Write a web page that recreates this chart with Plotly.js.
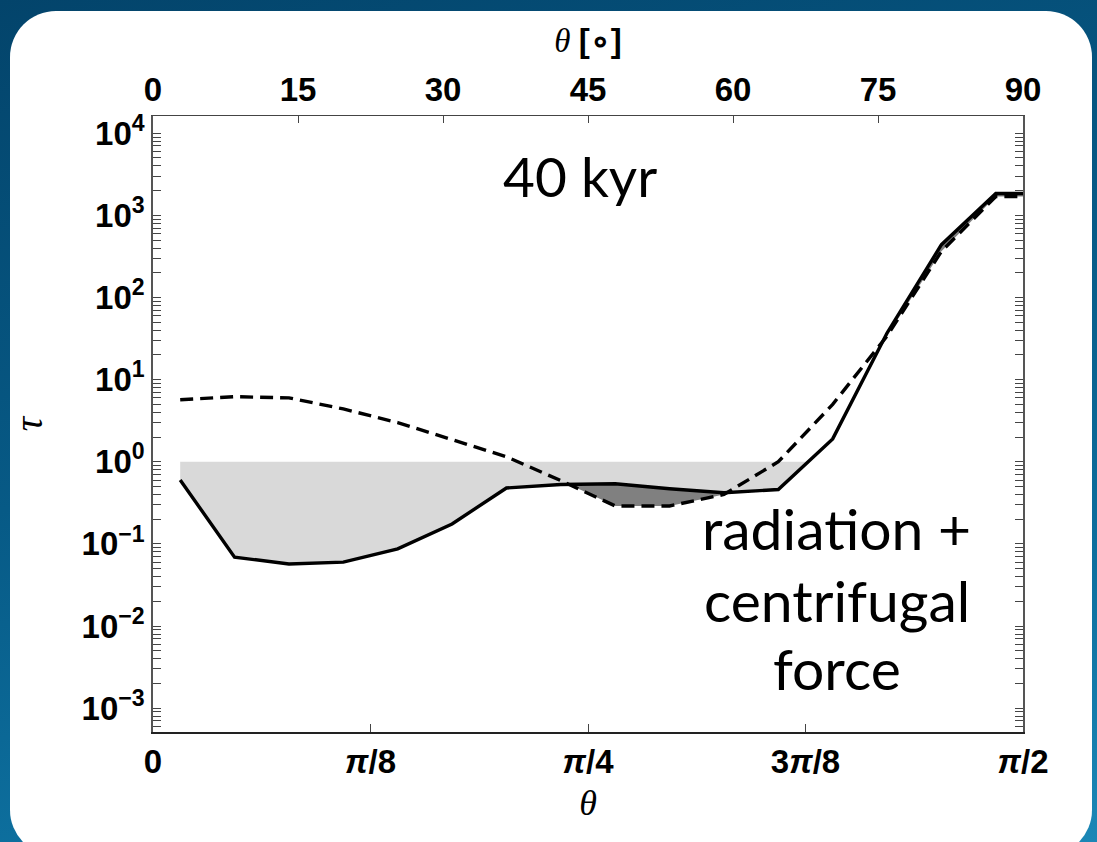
<!DOCTYPE html>
<html>
<head>
<meta charset="utf-8">
<script src="https://cdn.plot.ly/plotly-3.0.1.min.js"></script>
<style>
  html, body { margin: 0; padding: 0; width: 1097px; height: 842px; overflow: hidden; }
  body { background: linear-gradient(165deg, #03446b 0%, #075a86 45%, #0d6f9e 75%, #1b87b6 100%); position: relative; }
  #panel { position: absolute; left: 10px; top: 11px; width: 1082px; height: 845px; background: #ffffff; border-radius: 46px; }
  #chart { position: absolute; left: 0; top: 0; width: 1097px; height: 842px; }
</style>
</head>
<body>
<div id="panel"></div>
<div id="chart"></div>
<script>
// ---- data ----
const thetaDeg = [2.8125, 8.4375, 14.0625, 19.6875, 25.3125, 30.9375, 36.5625, 42.1875,
                  47.8125, 53.4375, 59.0625, 64.6875, 70.3125, 75.9375, 81.5625, 87.1875, 90];
const tauSolid = [0.60, 0.069, 0.057, 0.060, 0.087, 0.175, 0.48, 0.53,
                  0.54, 0.47, 0.42, 0.46, 1.9, 37, 440, 1850, 1850];
const tauDashed = [5.7, 6.2, 6.0, 4.4, 3.0, 1.85, 1.15, 0.59,
                   0.29, 0.29, 0.40, 1.0, 5.0, 34, 365, 1700, 1700];
const tauThreshold = 1;

const bottomTickVals = [0, 22.5, 45, 67.5, 90];
const bottomTickText = ['0', '<i>π</i>/8', '<i>π</i>/4', '3<i>π</i>/8', '<i>π</i>/2'];
const topTickVals = [0, 15, 30, 45, 60, 75, 90];
const topTickText = ['0', '15', '30', '45', '60', '75', '90'];
const yDecades = [-3, -2, -1, 0, 1, 2, 3, 4];

// ---- helpers ----
const yTickVals = yDecades.map(p => Math.pow(10, p));
const yTickText = yDecades.map(p => '10<sup>' + (p < 0 ? '\u2212' + (-p) : p) + '</sup>');
const yMinor = [];
for (let p = -4; p <= 4; p++) for (let m = 2; m <= 9; m++) yMinor.push(m * Math.pow(10, p));

// polygons of region where bot < top (interpolated in log space, like fill_between)
function fillRegions(x, top, bot) {
  const lt = top.map(v => Math.log10(v)), lb = bot.map(v => Math.log10(v));
  const polys = [];
  let cur = null;
  for (let i = 0; i < x.length; i++) {
    const d = lt[i] - lb[i];
    if (i > 0) {
      const dp = lt[i - 1] - lb[i - 1];
      if ((dp > 0) !== (d > 0) && dp !== d) {
        const t = dp / (dp - d);
        const xc = x[i - 1] + t * (x[i] - x[i - 1]);
        const yc = Math.pow(10, lb[i - 1] + t * (lb[i] - lb[i - 1]));
        if (cur) { cur.x.push(xc); cur.t.push(yc); cur.b.push(yc); polys.push(cur); cur = null; }
        else { cur = { x: [xc], t: [yc], b: [yc] }; }
      }
    }
    if (d > 0) {
      if (!cur) cur = { x: [], t: [], b: [] };
      cur.x.push(x[i]); cur.t.push(top[i]); cur.b.push(bot[i]);
    }
  }
  if (cur) polys.push(cur);
  return polys.map(p => ({
    x: p.x.concat(p.x.slice().reverse()),
    y: p.t.concat(p.b.slice().reverse())
  }));
}

const traces = [];
const ones = thetaDeg.map(() => tauThreshold);
fillRegions(thetaDeg, ones, tauSolid).forEach(p => traces.push({
  x: p.x, y: p.y, mode: 'lines', fill: 'toself', fillcolor: '#d9d9d9',
  line: { width: 0, color: 'rgba(0,0,0,0)' }, hoverinfo: 'skip', showlegend: false
}));
fillRegions(thetaDeg, tauSolid, tauDashed).forEach(p => traces.push({
  x: p.x, y: p.y, mode: 'lines', fill: 'toself', fillcolor: '#808080',
  line: { width: 0, color: 'rgba(0,0,0,0)' }, hoverinfo: 'skip', showlegend: false
}));
traces.push({ x: thetaDeg, y: tauSolid, mode: 'lines', line: { color: '#000', width: 3.4 }, showlegend: false });
traces.push({ x: thetaDeg, y: tauDashed, mode: 'lines', line: { color: '#000', width: 3.4, dash: '13px,7px' }, showlegend: false });
// invisible trace to carry the top axis
traces.push({ x: thetaDeg, y: tauSolid, xaxis: 'x2', mode: 'lines', line: { width: 0, color: 'rgba(0,0,0,0)' }, hoverinfo: 'skip', showlegend: false });

const tickFont = { family: 'Liberation Sans, Arial, sans-serif', size: 33, color: '#000', weight: 'bold' };
const annFont1 = { family: 'Lato, Open Sans, sans-serif', size: 55, color: '#000' };
const annFont2 = { family: 'Lato, Open Sans, sans-serif', size: 57, color: '#000' };

const layout = {
  width: 1097, height: 842,
  margin: { l: 153, r: 74, t: 116, b: 110, pad: 0 },
  paper_bgcolor: 'rgba(0,0,0,0)',
  plot_bgcolor: '#ffffff',
  showlegend: false,
  xaxis: {
    range: [0, 90], tickmode: 'array', tickvals: bottomTickVals, ticktext: bottomTickText,
    ticks: 'inside', ticklen: 8, tickwidth: 1, tickcolor: '#444',
    showline: true, linecolor: '#222', linewidth: 1.8, mirror: false,
    showgrid: false, zeroline: false, tickfont: tickFont, automargin: false,
    title: { text: '<i>θ</i>', font: { family: 'Liberation Serif, serif', size: 36, color: '#000' }, standoff: 10 }
  },
  xaxis2: {
    overlaying: 'x', side: 'top', anchor: 'y', range: [0, 90],
    tickmode: 'array', tickvals: topTickVals, ticktext: topTickText,
    ticks: 'inside', ticklen: 7, tickwidth: 1, tickcolor: '#444',
    showline: true, linecolor: '#444', linewidth: 1.5,
    showgrid: false, zeroline: false, tickfont: tickFont, automargin: false,
    title: { text: '<i>θ</i> <span style="font-family:Liberation Sans;font-weight:bold">[∘]</span>', font: { family: 'Liberation Serif, serif', size: 33, color: '#000' }, standoff: 8 }
  },
  yaxis: {
    type: 'log', range: [-3.29, 4.21],
    tickmode: 'array', tickvals: yTickVals, ticktext: yTickText,
    ticks: 'inside', ticklen: 8, tickwidth: 1, tickcolor: '#444',
    minor: { tickmode: 'array', tickvals: yMinor, ticks: 'inside', ticklen: 4, tickwidth: 1, tickcolor: '#444', showgrid: false },
    showline: true, linecolor: '#555', linewidth: 1.8, mirror: 'allticks',
    showgrid: false, zeroline: false, tickfont: tickFont, automargin: false,
    title: { text: '<i>τ</i>', font: { family: 'Liberation Serif, serif', size: 40, color: '#000' }, standoff: 26 }
  },
  annotations: [
    { xref: 'paper', yref: 'paper', x: 0.491, y: (732 - 176) / 616, text: '40 kyr', showarrow: false, font: annFont1, xanchor: 'center', yanchor: 'middle' },
    { xref: 'paper', yref: 'paper', x: 0.786, y: (732 - 528) / 616, text: 'radiation +', showarrow: false, font: annFont2, xanchor: 'center', yanchor: 'middle' },
    { xref: 'paper', yref: 'paper', x: 0.786, y: (732 - 600) / 616, text: 'centrifugal', showarrow: false, font: annFont2, xanchor: 'center', yanchor: 'middle' },
    { xref: 'paper', yref: 'paper', x: 0.786, y: (732 - 668) / 616, text: 'force', showarrow: false, font: annFont2, xanchor: 'center', yanchor: 'middle' }
  ]
};

Plotly.newPlot('chart', traces, layout, { displayModeBar: false, staticPlot: true });
</script>
</body>
</html>
